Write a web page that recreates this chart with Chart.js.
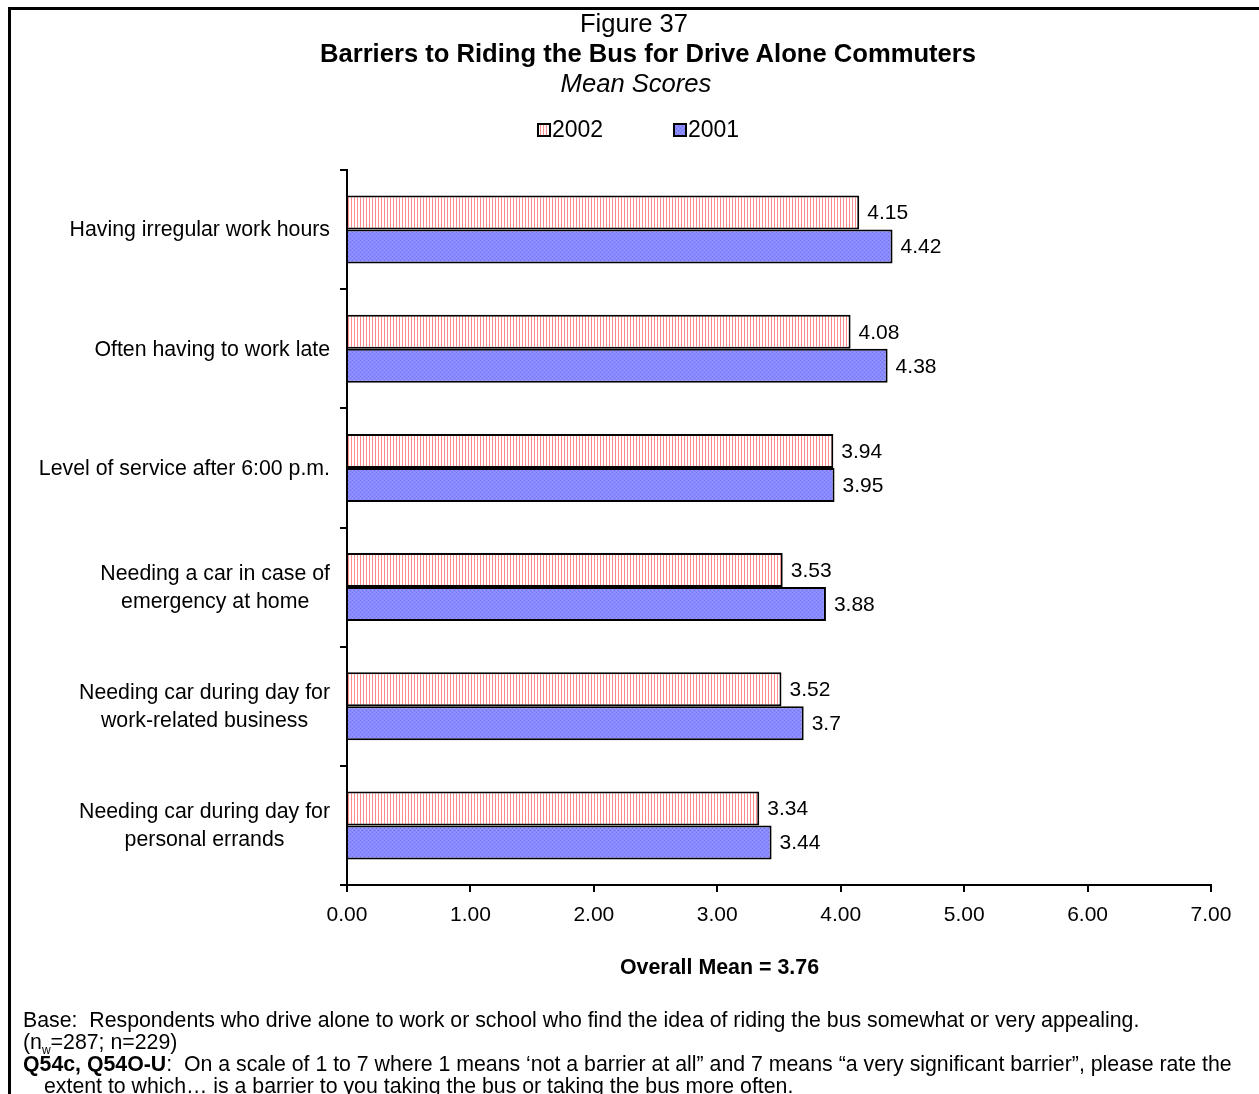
<!DOCTYPE html>
<html>
<head>
<meta charset="utf-8">
<script src="https://cdn.jsdelivr.net/npm/chart.js@4"></script>
<style>
  body { margin: 0; background: #fff; font-family: "Liberation Sans", Arial, sans-serif; }
  #page { position: relative; width: 1259px; height: 1094px; overflow: hidden; }
  #frame { position: absolute; left: 8px; top: 7px; width: 1400px; height: 1200px; border: 3px solid #000; box-sizing: border-box; }
  canvas { position: absolute; left: 0; top: 0; }
  .t { position: absolute; text-align: center; color: #000; white-space: nowrap; font-size: 25.6px; }
  .note { position: absolute; left: 23px; font-size: 21.3px; color: #000; white-space: nowrap; }
</style>
</head>
<body>
<div id="page">
  <div id="frame"></div>
  <canvas id="chart" width="1259" height="1094"></canvas>
  <div class="t" style="top:9px;left:0;width:1268px;">Figure 37</div>
  <div class="t" style="top:39px;left:0;width:1296px;font-weight:bold;">Barriers to Riding the Bus for Drive Alone Commuters</div>
  <div class="t" style="top:69px;left:0;width:1272px;font-style:italic;">Mean Scores</div>
  <div class="t" style="top:955px;left:0;width:1439px;font-size:21.4px;font-weight:bold;">Overall Mean = 3.76</div>
  <div class="note" style="top:1008px;">Base:&nbsp; Respondents who drive alone to work or school who find the idea of riding the bus somewhat or very appealing.</div>
  <div class="note" style="top:1030px;">(n<sub style="font-size:12px;">w</sub>=287; n=229)</div>
  <div class="note" style="top:1052px;"><b>Q54c, Q54O-U</b>:&nbsp; On a scale of 1 to 7 where 1 means ‘not a barrier at all” and 7 means “a very significant barrier”, please rate the</div>
  <div class="note" style="top:1074px;left:44px;">extent to which… is a barrier to you taking the bus or taking the bus more often.</div>
</div>
<script>
const categories = [
    ['Having irregular work hours'],
    ['Often having to work late'],
    ['Level of service after 6:00 p.m.'],
    ['Needing a car in case of', 'emergency at home'],
    ['Needing car during day for', 'work-related business'],
    ['Needing car during day for', 'personal errands']
];
const values2002 = [4.15, 4.08, 3.94, 3.53, 3.52, 3.34];
const values2001 = [4.42, 4.38, 3.95, 3.88, 3.7, 3.44];
const seriesNames = ['2002', '2001'];
const xTicks = [0, 1, 2, 3, 4, 5, 6, 7];

const FONT = '"Liberation Sans", Arial, sans-serif';

// stripe pattern for 2002
function makeStripes() {
    const c = document.createElement('canvas');
    c.width = 3; c.height = 4;
    const g = c.getContext('2d');
    g.fillStyle = '#ffffff';
    g.fillRect(0, 0, 3, 4);
    g.fillStyle = '#ff8c8c';
    g.fillRect(0, 0, 1, 4);
    return g.createPattern(c, 'repeat');
}

// dotted blue pattern for 2001
function makeDots() {
    const c = document.createElement('canvas');
    c.width = 4; c.height = 4;
    const g = c.getContext('2d');
    g.fillStyle = '#8888ff';
    g.fillRect(0, 0, 4, 4);
    g.fillStyle = '#7474f0';
    g.fillRect(0, 0, 1, 1);
    g.fillRect(2, 2, 1, 1);
    g.fillStyle = '#9c9cff';
    g.fillRect(2, 0, 1, 1);
    g.fillRect(0, 2, 1, 1);
    return g.createPattern(c, 'repeat');
}

const stripes = makeStripes();
const dots = makeDots();
const fills = [stripes, dots];

const labelPlugin = {
    id: 'labels',
    afterDatasetsDraw(chart) {
        const ctx = chart.ctx;
        ctx.save();
        ctx.fillStyle = '#000';
        ctx.font = '21px ' + FONT;
        ctx.textBaseline = 'middle';
        ctx.textAlign = 'left';
        chart.data.datasets.forEach((ds, di) => {
            chart.getDatasetMeta(di).data.forEach((bar, i) => {
                ctx.fillText(String(ds.data[i]), bar.x + 8, bar.y + 1);
            });
        });
        // category labels: block right-aligned, lines centred
        ctx.font = '21.3px ' + FONT;
        const y = chart.scales.y;
        const right = 330;
        const lh = 28;
        categories.forEach((lines, i) => {
            const cy = y.getPixelForValue(i);
            const widths = lines.map(l => ctx.measureText(l).width);
            const w = Math.max(...widths);
            const cx = right - w / 2;
            ctx.textAlign = 'center';
            lines.forEach((l, k) => {
                ctx.fillText(l, cx, cy + 1 + (k - (lines.length - 1) / 2) * lh);
            });
        });
        // legend
        ctx.font = '23px ' + FONT;
        const items = [{ x: 538, i: 0 }, { x: 674, i: 1 }];
        const ly = 130;
        items.forEach(it => {
            ctx.fillStyle = fills[it.i];
            ctx.fillRect(it.x, ly - 6, 12, 12);
            ctx.lineWidth = 2;
            ctx.strokeStyle = '#000';
            ctx.strokeRect(it.x, ly - 6, 12, 12);
            ctx.fillStyle = '#000';
            ctx.textAlign = 'left';
            ctx.fillText(seriesNames[it.i], it.x + 14, ly + 1);
        });
        ctx.restore();
    }
};

new Chart(document.getElementById('chart'), {
    type: 'bar',
    data: {
        labels: categories,
        datasets: [
            { label: seriesNames[0], data: values2002, backgroundColor: stripes, borderColor: '#000', borderWidth: 2, borderSkipped: 'start' },
            { label: seriesNames[1], data: values2001, backgroundColor: dots, borderColor: '#000', borderWidth: 2, borderSkipped: 'start' }
        ]
    },
    options: {
        indexAxis: 'y',
        responsive: false,
        animation: false,
        categoryPercentage: 0.57,
        barPercentage: 1.0,
        layout: { padding: { left: 339, top: 170, right: 48, bottom: 169 } },
        plugins: {
            legend: { display: false },
            tooltip: { enabled: false }
        },
        scales: {
            x: {
                min: 0, max: 7,
                afterFit(s) { s.height = 40; },
                afterBuildTicks(s) { s.ticks = xTicks.map(v => ({ value: v })); },
                border: { color: '#000', width: 2 },
                grid: { display: true, drawOnChartArea: false, drawTicks: true, tickLength: 7, color: '#000', lineWidth: 2 },
                ticks: {
                    color: '#000', padding: 11,
                    font: { family: FONT, size: 21 },
                    callback: v => v.toFixed(2)
                }
            },
            y: {
                afterFit(s) { s.width = 8; },
                border: { color: '#000', width: 2 },
                grid: { display: true, offset: true, drawOnChartArea: false, drawTicks: true, tickLength: 7, color: '#000', lineWidth: 2 },
                ticks: { display: true, callback: () => '' }
            }
        }
    },
    plugins: [labelPlugin]
});
</script>
</body>
</html>
